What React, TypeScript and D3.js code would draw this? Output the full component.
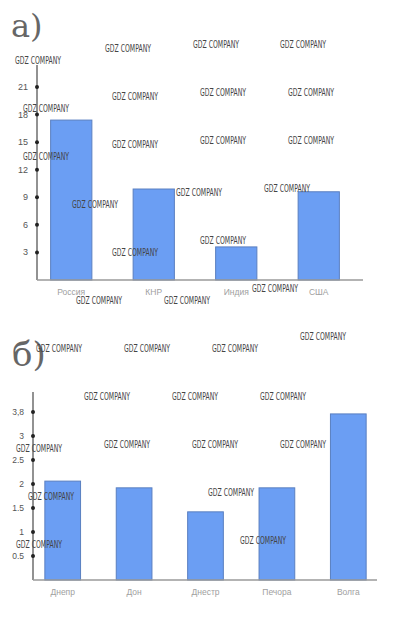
import React from "react";
import * as d3 from "d3";

// chart а) — values
const countries = ["Россия", "КНР", "Индия", "США"];
const countryValues = [17.4, 9.9, 3.6, 9.6];
const countryTicks = [3, 6, 9, 12, 15, 18, 21];

// chart б) — values
const rivers = ["Днепр", "Дон", "Днестр", "Печора", "Волга"];
const riverValues = [2.06, 1.92, 1.42, 1.92, 3.46];
const riverTicks = [0.5, 1, 1.5, 2, 2.5, 3, 3.5];
const riverTickLabels = ["0.5", "1", "1.5", "2", "2.5", "3", "3,8"];

// watermark positions (decoration)
const watermarks: [number, number][] = [
  [105, 52], [193, 48], [280, 48], [15, 64], [112, 100], [200, 96], [288, 96],
  [23, 112], [112, 148], [200, 144], [288, 144], [23, 160], [72, 208], [176, 196],
  [264, 192], [112, 256], [200, 244], [76, 304], [164, 304], [252, 292],
  [36, 352], [124, 352], [212, 352], [300, 340], [84, 400], [172, 400], [260, 400],
  [16, 452], [104, 448], [192, 448], [280, 448], [28, 500], [208, 496], [16, 548], [240, 544],
];

const BAR_FILL = "#6b9ef3";
const BAR_STROKE = "#5a7fc0";

function BarPanel({ cats, vals, ticks, tickLabels, xRange, yDomainMax, yRange, axisX, axisTop, axisRight, fontSize }: any) {
  const x = d3.scaleBand().domain(cats).range(xRange).paddingInner(0.5).paddingOuter(0.25);
  const y = d3.scaleLinear().domain([0, yDomainMax]).range(yRange);
  const base = y(0);
  return (
    <g>
      {cats.map((c: string, i: number) => (
        <rect key={c} x={x(c)} y={y(vals[i])} width={x.bandwidth()} height={base - y(vals[i])}
          fill={BAR_FILL} stroke={BAR_STROKE} strokeWidth={1} />
      ))}
      <line x1={axisX} x2={axisX} y1={axisTop} y2={base} stroke="#6e6e6e" strokeWidth={1.5} />
      <line x1={axisX} x2={axisRight} y1={base} y2={base} stroke="#9a9a9a" strokeWidth={1.5} />
      {ticks.map((t: number, i: number) => (
        <g key={t}>
          <circle cx={axisX} cy={y(t)} r={2} fill="#222" />
          <text x={axisX - 9} y={y(t) + 3} textAnchor="end" fontSize={fontSize} fill="#555"
            fontFamily="Liberation Sans, Arial, sans-serif">{tickLabels ? tickLabels[i] : t}</text>
        </g>
      ))}
      {cats.map((c: string) => (
        <text key={c} x={(x(c) as number) + x.bandwidth() / 2} y={base + 15} textAnchor="middle"
          fontSize={8.5} fill="#a0a0a0" fontFamily="Liberation Sans, Arial, sans-serif">{c}</text>
      ))}
    </g>
  );
}

export default function App() {
  return (
    <div style={{ position: "absolute", left: 0, top: 0 }}>
      <svg width={394} height={617} style={{ display: "block", background: "#fff" }}>
        <text x={11} y={37} fontSize={32} fill="#666" fontFamily="DejaVu Serif, serif" fontWeight={300}>а)</text>
        <text x={12} y={366} fontSize={34} fill="#666" fontFamily="DejaVu Serif, serif" fontWeight={300}>б)</text>

        <BarPanel cats={countries} vals={countryValues} ticks={countryTicks}
          xRange={[30, 360]} yDomainMax={21} yRange={[280, 87]}
          axisX={37} axisTop={65} axisRight={363} fontSize={9} />

        <BarPanel cats={rivers} vals={riverValues} ticks={riverTicks} tickLabels={riverTickLabels}
          xRange={[27, 384]} yDomainMax={3} yRange={[580, 436]}
          axisX={33} axisTop={392} axisRight={377} fontSize={8.5} />

        {watermarks.map(([wx, wy], i) => (
          <text key={i} x={wx} y={wy} fontSize={10} fill="#444" textLength={46} lengthAdjust="spacingAndGlyphs"
            fontFamily="Liberation Sans Narrow, DejaVu Sans Condensed, sans-serif">GDZ COMPANY</text>
        ))}
      </svg>
    </div>
  );
}
